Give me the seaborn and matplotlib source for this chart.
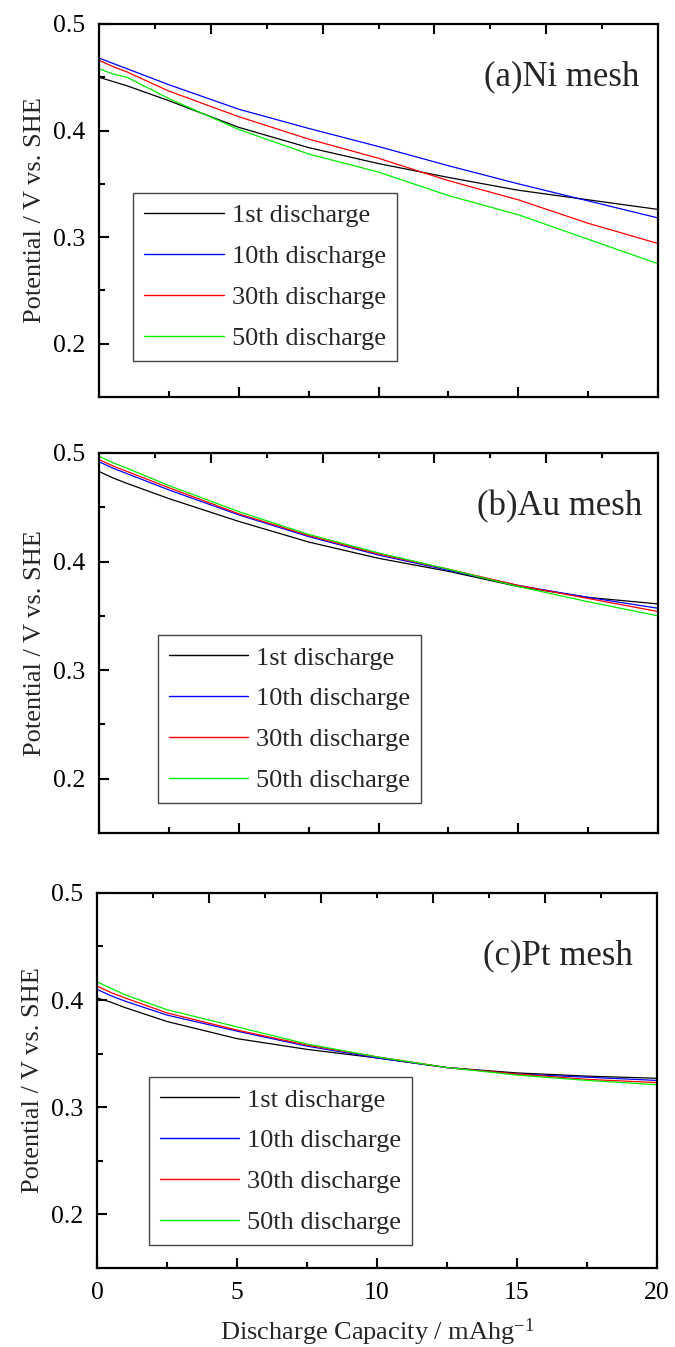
import numpy as np
import pandas as pd
import matplotlib
matplotlib.use("Agg")
import matplotlib.pyplot as plt
import seaborn as sns
from matplotlib.ticker import FixedLocator
from matplotlib.lines import Line2D

# ---------------- data ----------------
capacity = [0, 0.5, 1, 2.5, 5, 7.5, 10, 12.5, 15, 17.5, 20]
cycles = ["1st discharge", "10th discharge", "30th discharge", "50th discharge"]
colors = ["#000000", "#0000ff", "#ff0000", "#00ee00"]

ni_1st  = [0.450, 0.446, 0.442, 0.428, 0.403, 0.384, 0.369, 0.356, 0.344, 0.335, 0.326]
ni_10th = [0.468, 0.463, 0.458, 0.443, 0.420, 0.402, 0.385, 0.367, 0.350, 0.334, 0.318]
ni_30th = [0.466, 0.460, 0.455, 0.437, 0.413, 0.392, 0.374, 0.353, 0.335, 0.313, 0.294]
ni_50th = [0.458, 0.453, 0.450, 0.430, 0.401, 0.378, 0.361, 0.339, 0.321, 0.298, 0.275]

au_1st  = [0.483, 0.477, 0.472, 0.458, 0.437, 0.418, 0.403, 0.391, 0.377, 0.367, 0.361]
au_10th = [0.492, 0.486, 0.481, 0.466, 0.443, 0.423, 0.406, 0.392, 0.378, 0.367, 0.357]
au_30th = [0.494, 0.488, 0.483, 0.468, 0.444, 0.424, 0.407, 0.393, 0.378, 0.366, 0.354]
au_50th = [0.497, 0.491, 0.486, 0.470, 0.446, 0.425, 0.408, 0.393, 0.377, 0.363, 0.350]

pt_1st  = [0.402, 0.398, 0.393, 0.380, 0.364, 0.354, 0.346, 0.337, 0.332, 0.329, 0.327]
pt_10th = [0.410, 0.404, 0.399, 0.386, 0.371, 0.357, 0.346, 0.337, 0.331, 0.328, 0.325]
pt_30th = [0.413, 0.407, 0.402, 0.388, 0.372, 0.358, 0.347, 0.337, 0.331, 0.326, 0.323]
pt_50th = [0.417, 0.411, 0.405, 0.391, 0.375, 0.359, 0.347, 0.337, 0.330, 0.325, 0.321]

panel_titles = ["(a)Ni mesh", "(b)Au mesh", "(c)Pt mesh"]
x_ticks = [0, 5, 10, 15, 20]
x_minor = [2.5, 7.5, 12.5, 17.5]
top_ticks = [4, 8, 12, 16]
top_minor = [2, 6, 10, 14, 18]
y_ticks = [0.2, 0.3, 0.4, 0.5]
y_minor = [0.25, 0.35, 0.45]
y_tick_labels = ["0.2", "0.3", "0.4", "0.5"]

panels = [
    [ni_1st, ni_10th, ni_30th, ni_50th],
    [au_1st, au_10th, au_30th, au_50th],
    [pt_1st, pt_10th, pt_30th, pt_50th],
]

# ---------------- style ----------------
sns.set_theme(style="white")
plt.rcParams["font.family"] = ["Liberation Serif", "DejaVu Serif"]
plt.rcParams["mathtext.fontset"] = "custom"
plt.rcParams["mathtext.rm"] = "Liberation Serif"
plt.rcParams["mathtext.it"] = "Liberation Serif:italic"

FIG_W, FIG_H, DPI = 6.75, 13.47, 100
fig = plt.figure(figsize=(FIG_W, FIG_H), dpi=DPI)

axes_rects = [
    [0.1467, 0.7053, 0.8281, 0.2769],
    [0.1467, 0.3816, 0.8281, 0.2821],
    [0.1437, 0.0587, 0.8296, 0.2784],
]
legend_anchor = [(0.0615, 0.547), (0.105, 0.521), (0.092, 0.509)]
title_pos = [(0.966, 0.858), (0.971, 0.858), (0.957, 0.832)]

TICK_FS = 18.5
LEG_FS = 19
LAB_FS = 19
MAJOR_PX, MINOR_PX = 10, 5.5

for i, rect in enumerate(axes_rects):
    ax = fig.add_axes(rect)
    rows = []
    for cyc, vals in zip(cycles, panels[i]):
        for xv, yv in zip(capacity, vals):
            rows.append({"capacity": xv, "potential": yv, "cycle": cyc})
    df = pd.DataFrame(rows)
    sns.lineplot(data=df, x="capacity", y="potential", hue="cycle",
                 hue_order=cycles, palette=colors, linewidth=0.9,
                 legend=False, ax=ax, sort=True, estimator=None)

    ax.set_xlim(0, 20)
    ax.set_ylim(0.15, 0.5)
    ax.xaxis.set_major_locator(FixedLocator(x_ticks))
    ax.xaxis.set_minor_locator(FixedLocator(x_minor))
    ax.yaxis.set_major_locator(FixedLocator(y_ticks))
    ax.set_yticklabels(y_tick_labels)
    ax.yaxis.set_minor_locator(FixedLocator(y_minor))
    ax.tick_params(which="both", direction="in", top=False, right=False,
                   bottom=True, left=True, width=1.5, colors="black",
                   labelsize=TICK_FS, pad=10)
    ax.tick_params(which="major", length=7.5)
    ax.tick_params(which="minor", length=4)
    for s in ax.spines.values():
        s.set_linewidth(1.6)
        s.set_color("black")
        s.set_visible(True)

    # top axis ticks (different spacing from the bottom axis, no labels)
    ax_h_px = rect[3] * FIG_H * DPI
    ax.vlines(top_ticks, 1 - MAJOR_PX / ax_h_px, 1, transform=ax.get_xaxis_transform(),
              colors="black", linewidth=1.5, clip_on=False, zorder=5)
    ax.vlines(top_minor, 1 - MINOR_PX / ax_h_px, 1, transform=ax.get_xaxis_transform(),
              colors="black", linewidth=1.5, clip_on=False, zorder=5)

    if i < 2:
        ax.set_xticklabels([])
        ax.set_xlabel("")
    else:
        ax.set_xticklabels([str(v) for v in x_ticks])
        ax.set_xlabel("Discharge Capacity / mAhg$^{-1}$", fontsize=LAB_FS, labelpad=9)
    ax.set_ylabel("Potential / V vs. SHE", fontsize=LAB_FS, labelpad=5)

    ax.text(title_pos[i][0], title_pos[i][1], panel_titles[i], transform=ax.transAxes,
            ha="right", va="center", fontsize=25)

    handles = [Line2D([0], [0], color=c, lw=1.0) for c in colors]
    leg = ax.legend(handles, cycles, loc="upper left", bbox_to_anchor=legend_anchor[i],
                    frameon=True, fancybox=False, edgecolor="#444444", framealpha=1,
                    fontsize=LEG_FS, handlelength=3.0, handletextpad=0.3,
                    labelspacing=0.66, borderpad=0.42, borderaxespad=0)
    leg.get_frame().set_linewidth(1.0)

fig.savefig("out.png", dpi=DPI)
